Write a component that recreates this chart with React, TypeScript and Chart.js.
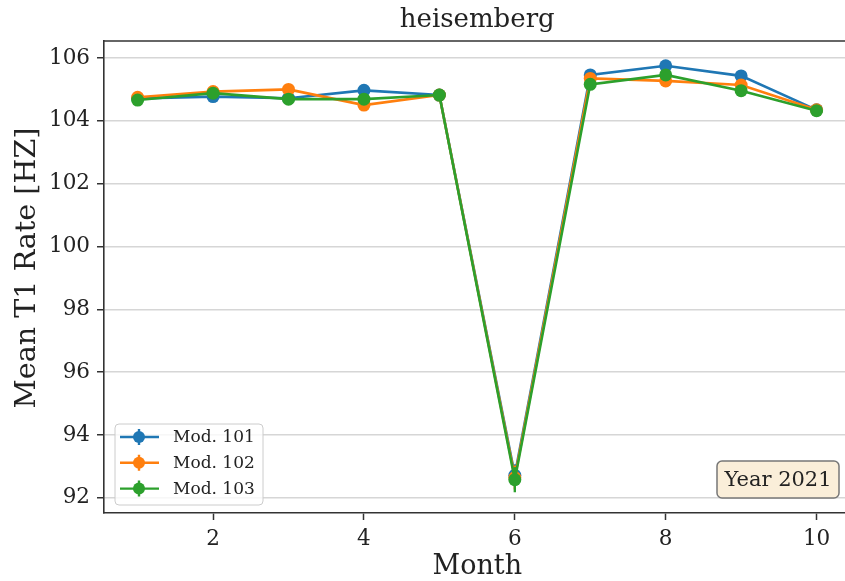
import React, { useEffect, useRef } from "react";
import { Chart, registerables } from "chart.js";

Chart.register(...registerables);

const FONT = "DejaVu Serif";

const months = [1, 2, 3, 4, 5, 6, 7, 8, 9, 10];
const seriesNames = ["Mod. 101", "Mod. 102", "Mod. 103"];
const seriesColors = ["#1f77b4", "#ff7f0e", "#2ca02c"];
const mod101 = [104.71, 104.77, 104.72, 104.97, 104.82, 92.72, 105.46, 105.75, 105.43, 104.35];
const mod102 = [104.75, 104.93, 105.0, 104.5, 104.82, 92.65, 105.35, 105.27, 105.14, 104.35];
const mod103 = [104.66, 104.88, 104.69, 104.69, 104.82, 92.58, 105.16, 105.46, 104.96, 104.32];
const err101 = [0.05, 0.05, 0.05, 0.05, 0.05, 0.35, 0.05, 0.05, 0.05, 0.05];
const err102 = [0.05, 0.05, 0.05, 0.05, 0.05, 0.38, 0.05, 0.05, 0.05, 0.05];
const err103 = [0.05, 0.05, 0.05, 0.05, 0.05, 0.4, 0.05, 0.05, 0.05, 0.05];
const xTicks = [2, 4, 6, 8, 10];
const yTicks = [92, 94, 96, 98, 100, 102, 104, 106];
const titleText = "heisemberg";
const xTitle = "Month";
const yTitle = "Mean T1 Rate [HZ]";
const annotationText = "Year 2021";

const seriesValues = [mod101, mod102, mod103];
const seriesErrors = [err101, err102, err103];

function roundRect(ctx: CanvasRenderingContext2D, x: number, y: number, w: number, h: number, r: number) {
  ctx.beginPath();
  ctx.moveTo(x + r, y);
  ctx.lineTo(x + w - r, y);
  ctx.arcTo(x + w, y, x + w, y + r, r);
  ctx.lineTo(x + w, y + h - r);
  ctx.arcTo(x + w, y + h, x + w - r, y + h, r);
  ctx.lineTo(x + r, y + h);
  ctx.arcTo(x, y + h, x, y + h - r, r);
  ctx.lineTo(x, y + r);
  ctx.arcTo(x, y, x + r, y, r);
  ctx.closePath();
}

const errorBarPlugin = {
  id: "errorBars",
  beforeDatasetDraw(chart: any, args: any) {
    const i = args.index;
    const errs = seriesErrors[i];
    const vals = seriesValues[i];
    const meta = args.meta;
    const y = chart.scales.y;
    const ctx = chart.ctx;
    ctx.save();
    ctx.strokeStyle = seriesColors[i];
    ctx.lineWidth = 2.4;
    meta.data.forEach((pt: any, k: number) => {
      ctx.beginPath();
      ctx.moveTo(pt.x, y.getPixelForValue(vals[k] - errs[k]));
      ctx.lineTo(pt.x, y.getPixelForValue(vals[k] + errs[k]));
      ctx.stroke();
    });
    ctx.restore();
  },
};

const framePlugin = {
  id: "frameAndExtras",
  afterDatasetsDraw(chart: any) {
    const ctx = chart.ctx;
    const a = chart.chartArea;
    ctx.save();
    // top border
    ctx.strokeStyle = "#333";
    ctx.lineWidth = 1.6;
    ctx.beginPath();
    ctx.moveTo(a.left, a.top);
    ctx.lineTo(a.right, a.top);
    ctx.stroke();

    // y axis title
    ctx.save();
    ctx.translate(28, (a.top + a.bottom) / 2 - 9);
    ctx.rotate(-Math.PI / 2);
    ctx.font = `28.6px "${FONT}"`;
    ctx.fillStyle = "#222";
    ctx.textAlign = "center";
    ctx.textBaseline = "middle";
    ctx.fillText(yTitle, 0, 0);
    ctx.restore();

    // legend
    const lx = a.left + 11;
    const lw = 148;
    const lh = 81;
    const ly = a.bottom - 8 - lh;
    roundRect(ctx, lx, ly, lw, lh, 4);
    ctx.fillStyle = "rgba(255,255,255,0.8)";
    ctx.fill();
    ctx.strokeStyle = "#cccccc";
    ctx.lineWidth = 1;
    ctx.stroke();
    ctx.font = `17px "${FONT}"`;
    ctx.textBaseline = "middle";
    ctx.textAlign = "left";
    seriesNames.forEach((name, i) => {
      const cy = ly + 13 + i * 25.8;
      const cx = lx + 24;
      ctx.strokeStyle = seriesColors[i];
      ctx.lineWidth = 2.4;
      ctx.beginPath();
      ctx.moveTo(lx + 5, cy);
      ctx.lineTo(lx + 44, cy);
      ctx.moveTo(cx, cy - 8);
      ctx.lineTo(cx, cy + 8);
      ctx.stroke();
      ctx.fillStyle = seriesColors[i];
      ctx.beginPath();
      ctx.arc(cx, cy, 6, 0, Math.PI * 2);
      ctx.fill();
      ctx.fillStyle = "#222";
      ctx.fillText(name, lx + 58, cy + 1);
    });

    // annotation box (anchored to the visible right edge)
    const visibleRight = 845;
    const bw = 122;
    const bh = 37;
    const bx = visibleRight - 6 - bw;
    const by = a.bottom - 15 - bh;
    roundRect(ctx, bx, by, bw, bh, 5);
    ctx.fillStyle = "#faeed9";
    ctx.fill();
    ctx.strokeStyle = "#777";
    ctx.lineWidth = 1.5;
    ctx.stroke();
    ctx.fillStyle = "#222";
    ctx.font = `21px "${FONT}"`;
    ctx.textAlign = "center";
    ctx.textBaseline = "middle";
    ctx.fillText(annotationText, bx + bw / 2, by + bh / 2 + 1);
    ctx.restore();
  },
};

export default function App() {
  const ref = useRef<HTMLCanvasElement | null>(null);
  useEffect(() => {
    if (!ref.current) return;
    const datasets = seriesNames.map((name, i) => ({
      label: name,
      data: months.map((m, k) => ({ x: m, y: seriesValues[i][k] })),
      borderColor: seriesColors[i],
      backgroundColor: seriesColors[i],
      borderWidth: 2.6,
      pointRadius: 6.5,
      pointBorderWidth: 0,
      pointBackgroundColor: seriesColors[i],
      tension: 0,
      order: 3 - i,
    }));
    const chart = new Chart(ref.current, {
      type: "line",
      data: { datasets },
      options: {
        animation: false,
        responsive: true,
        maintainAspectRatio: false,
        layout: { padding: 0 },
        plugins: {
          legend: { display: false },
          tooltip: { enabled: false },
          title: {
            display: true,
            fullSize: false,
            text: titleText,
            color: "#222",
            font: { family: FONT, size: 26, weight: "normal" },
            padding: { top: 5, bottom: 4.8 },
          },
        },
        scales: {
          x: {
            type: "linear",
            min: 0.554,
            max: 10.45,
            afterBuildTicks: (s: any) => {
              s.ticks = xTicks.map((v) => ({ value: v }));
            },
            afterFit: (s: any) => {
              s.height = 68;
            },
            ticks: {
              color: "#222",
              font: { family: FONT, size: 21.5 },
              padding: 7,
              maxRotation: 0,
              autoSkip: false,
              callback: (v: any) => String(v),
            },
            grid: {
              drawOnChartArea: false,
              drawTicks: true,
              tickLength: 7,
              tickColor: "#333",
              tickWidth: 1.5,
            },
            border: { display: true, color: "#333", width: 1.6 },
            title: {
              display: true,
              text: xTitle,
              color: "#222",
              font: { family: FONT, size: 27, lineHeight: 1 },
              padding: { top: 0, bottom: 1 },
            },
          },
          y: {
            type: "linear",
            min: 91.52,
            max: 106.54,
            afterBuildTicks: (s: any) => {
              s.ticks = yTicks.map((v) => ({ value: v }));
            },
            afterFit: (s: any) => {
              s.width = 104;
            },
            ticks: {
              color: "#222",
              font: { family: FONT, size: 21.5 },
              padding: 7,
              autoSkip: false,
              callback: (v: any) => String(v),
            },
            grid: {
              color: "#d6d6d6",
              lineWidth: 1.5,
              drawTicks: true,
              tickLength: 7,
              tickColor: "#333",
              tickWidth: 1.5,
            },
            border: { display: true, color: "#333", width: 1.6 },
            title: { display: false },
          },
        },
      },
      plugins: [errorBarPlugin, framePlugin],
    } as any);
    return () => chart.destroy();
  }, []);
  return (
    <div style={{ position: "fixed", left: 0, top: 0, width: 857, height: 581, background: "#fff" }}>
      <canvas ref={ref} style={{ display: "block" }} />
    </div>
  );
}
